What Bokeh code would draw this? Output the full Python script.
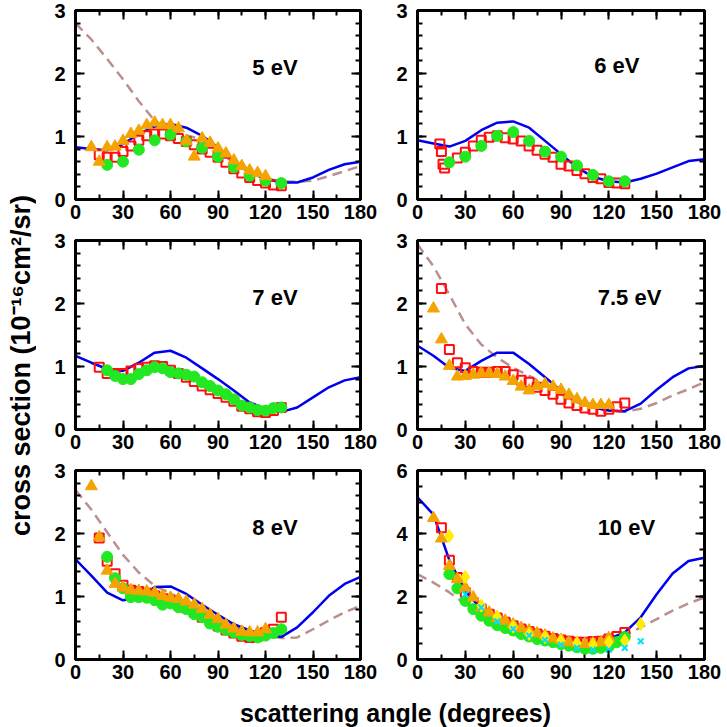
import math
from bokeh.plotting import figure
from bokeh.layouts import row, column
from bokeh.models import Range1d, SingleIntervalTicker, LinearAxis, Label
from bokeh.embed import file_html
from bokeh.resources import INLINE

# ---------------- data ----------------
theta_curve = [0, 10, 20, 30, 40, 50, 60, 70, 80, 90, 100, 110, 120, 130, 140, 150, 160, 170, 180]

# 5 eV
blue_5 = [0.83, 0.80, 0.78, 0.88, 1.04, 1.16, 1.20, 1.14, 1.01, 0.83, 0.62, 0.43, 0.33, 0.27, 0.27, 0.35, 0.47, 0.56, 0.60]
dash_5 = [2.80, 2.54, 2.23, 1.91, 1.56, 1.25, 1.12, 1.02, 0.95, 0.78, 0.58, 0.43, 0.33, 0.29, 0.28, 0.30, 0.37, 0.45, 0.53]
sq_th_5 = [15, 20, 25, 30, 35, 40, 45, 50, 55, 60, 65, 70, 75, 80, 85, 90, 95, 100, 105, 110, 115, 120, 125, 130]
sq_5 = [0.71, 0.67, 0.67, 0.76, 0.85, 0.94, 1.01, 1.04, 1.04, 1.01, 0.97, 0.92, 0.87, 0.80, 0.75, 0.67, 0.59, 0.49, 0.42, 0.35, 0.30, 0.26, 0.23, 0.22]
tri_th_5 = [10, 15, 20, 25, 30, 35, 40, 45, 50, 55, 60, 65, 70, 75, 80, 85, 90, 95, 100, 105, 110, 115, 120]
tri_5 = [0.83, 0.60, 0.83, 0.84, 0.93, 1.04, 1.09, 1.18, 1.22, 1.18, 1.18, 1.13, 0.93, 0.68, 0.97, 0.90, 0.81, 0.73, 0.62, 0.53, 0.46, 0.42, 0.37]
circ_th_5 = [20, 30, 40, 50, 60, 70, 80, 90, 100, 110, 120, 130]
circ_5 = [0.55, 0.60, 0.79, 0.94, 1.03, 0.92, 0.82, 0.68, 0.51, 0.38, 0.30, 0.26]

# 6 eV
blue_6 = [0.94, 0.89, 0.84, 0.93, 1.10, 1.22, 1.24, 1.14, 0.93, 0.72, 0.51, 0.36, 0.29, 0.27, 0.33, 0.41, 0.51, 0.61, 0.64]
sq_th_6 = [14, 15, 16, 17, 25, 30, 35, 40, 45, 50, 55, 60, 65, 70, 75, 80, 85, 90, 95, 100, 105, 110, 115, 120, 125, 130]
sq_6 = [0.88, 0.76, 0.56, 0.50, 0.66, 0.75, 0.85, 0.94, 0.99, 1.01, 0.98, 0.96, 0.93, 0.85, 0.78, 0.72, 0.67, 0.56, 0.53, 0.46, 0.41, 0.35, 0.33, 0.27, 0.26, 0.25]
circ_th_6 = [20, 30, 40, 50, 60, 70, 80, 90, 100, 110, 120, 130]
circ_6 = [0.59, 0.68, 0.85, 1.01, 1.07, 0.93, 0.76, 0.68, 0.54, 0.39, 0.29, 0.29]

# 7 eV
blue_7 = [1.17, 1.06, 0.96, 0.93, 1.06, 1.22, 1.25, 1.14, 0.97, 0.80, 0.62, 0.43, 0.33, 0.28, 0.35, 0.51, 0.67, 0.78, 0.83]
sq_th_7 = [15, 20, 25, 30, 35, 40, 45, 50, 55, 60, 65, 70, 75, 80, 85, 90, 95, 100, 105, 110, 115, 120, 125, 130]
sq_7 = [0.99, 0.89, 0.89, 0.89, 0.93, 0.97, 0.99, 1.01, 1.00, 0.94, 0.89, 0.83, 0.76, 0.69, 0.63, 0.57, 0.51, 0.45, 0.37, 0.33, 0.28, 0.27, 0.30, 0.35]
circ_th_7 = [20, 25, 30, 35, 40, 45, 50, 55, 60, 65, 70, 75, 80, 85, 90, 95, 100, 105, 110, 115, 120, 125, 130]
circ_7 = [0.94, 0.85, 0.80, 0.80, 0.88, 0.94, 0.99, 0.97, 0.91, 0.89, 0.87, 0.84, 0.75, 0.69, 0.62, 0.56, 0.48, 0.38, 0.35, 0.31, 0.30, 0.34, 0.35]

# 7.5 eV
blue_75 = [1.33, 1.17, 0.98, 0.93, 1.09, 1.22, 1.22, 1.04, 0.83, 0.62, 0.46, 0.35, 0.30, 0.29, 0.41, 0.63, 0.83, 0.97, 1.01]
dash_75 = [2.94, 2.59, 2.14, 1.67, 1.35, 1.14, 0.98, 0.85, 0.72, 0.56, 0.43, 0.35, 0.30, 0.28, 0.33, 0.42, 0.54, 0.64, 0.75]
sq_th_75 = [15, 20, 25, 30, 35, 40, 45, 50, 55, 60, 65, 70, 75, 80, 85, 90, 95, 100, 105, 110, 115, 120, 125, 130]
sq_75 = [2.24, 1.27, 1.06, 0.98, 0.92, 0.91, 0.91, 0.92, 0.92, 0.87, 0.78, 0.75, 0.67, 0.62, 0.56, 0.48, 0.42, 0.38, 0.34, 0.32, 0.29, 0.32, 0.36, 0.42]
tri_th_75 = [10, 15, 20, 25, 30, 35, 40, 45, 50, 55, 60, 65, 70, 75, 80, 85, 90, 95, 100, 105, 110, 115, 120]
tri_75 = [1.92, 1.43, 1.01, 0.84, 0.85, 0.87, 0.89, 0.89, 0.88, 0.84, 0.77, 0.68, 0.62, 0.69, 0.72, 0.68, 0.63, 0.55, 0.48, 0.42, 0.39, 0.39, 0.39]

# 8 eV
blue_8 = [1.59, 1.33, 1.06, 0.94, 0.98, 1.15, 1.16, 1.04, 0.87, 0.71, 0.56, 0.46, 0.39, 0.36, 0.51, 0.75, 1.01, 1.20, 1.31]
dash_8 = [2.69, 2.38, 2.02, 1.66, 1.38, 1.17, 1.05, 0.93, 0.80, 0.66, 0.53, 0.44, 0.38, 0.34, 0.35, 0.48, 0.62, 0.75, 0.85]
sq_th_8 = [15, 20, 25, 30, 35, 40, 45, 50, 55, 60, 65, 70, 75, 80, 85, 90, 95, 100, 105, 110, 115, 120, 125, 130]
sq_8 = [1.93, 1.56, 1.36, 1.18, 1.10, 1.08, 1.05, 1.01, 0.97, 0.93, 0.87, 0.82, 0.75, 0.67, 0.62, 0.53, 0.47, 0.42, 0.37, 0.35, 0.37, 0.43, 0.48, 0.67]
tri_th_8 = [10, 15, 20, 25, 30, 35, 40, 45, 50, 55, 60, 65, 70, 75, 80, 85, 90, 95, 100, 105, 110, 115, 120]
tri_8 = [2.75, 1.94, 1.41, 1.20, 1.14, 1.10, 1.09, 1.08, 1.06, 1.01, 0.98, 0.96, 0.92, 0.87, 0.80, 0.71, 0.64, 0.55, 0.49, 0.44, 0.43, 0.43, 0.48]
circ_th_8 = [20, 25, 30, 35, 40, 45, 50, 55, 60, 65, 70, 75, 80, 85, 90, 95, 100, 105, 110, 115, 120, 125, 130]
circ_8 = [1.63, 1.29, 1.13, 0.99, 0.99, 0.98, 0.94, 0.87, 0.89, 0.83, 0.80, 0.72, 0.67, 0.57, 0.52, 0.47, 0.43, 0.39, 0.37, 0.35, 0.38, 0.42, 0.48]

# 10 eV
blue_10 = [5.15, 4.60, 3.15, 2.18, 1.60, 1.23, 0.97, 0.79, 0.65, 0.57, 0.52, 0.55, 0.65, 0.86, 1.34, 2.07, 2.73, 3.13, 3.23]
dash_10 = [2.71, 2.44, 2.13, 1.76, 1.34, 1.02, 0.81, 0.65, 0.55, 0.49, 0.49, 0.52, 0.60, 0.76, 1.02, 1.28, 1.55, 1.78, 1.97]
sq_th_10 = [15, 20, 25, 30, 35, 40, 45, 50, 55, 60, 65, 70, 75, 80, 85, 90, 95, 100, 105, 110, 115, 120, 125, 130]
sq_10 = [4.18, 3.15, 2.60, 2.13, 1.81, 1.60, 1.44, 1.32, 1.18, 1.07, 0.97, 0.89, 0.81, 0.74, 0.67, 0.62, 0.58, 0.55, 0.55, 0.57, 0.58, 0.65, 0.73, 0.86]
tri_th_10 = [10, 15, 20, 25, 30, 35, 40, 45, 50, 55, 60, 65, 70, 75, 80, 85, 90, 95, 100, 105, 110, 115, 120]
tri_10 = [4.49, 3.84, 2.97, 2.55, 2.28, 1.97, 1.65, 1.49, 1.32, 1.23, 1.11, 1.00, 0.92, 0.83, 0.76, 0.67, 0.62, 0.55, 0.52, 0.49, 0.52, 0.55, 0.68]
circ_th_10 = [20, 25, 30, 35, 40, 45, 50, 55, 60, 65, 70, 75, 80, 85, 90, 95, 100, 105, 110, 115, 120, 125, 130]
circ_10 = [2.71, 2.26, 1.86, 1.60, 1.39, 1.23, 1.09, 1.00, 0.92, 0.81, 0.73, 0.65, 0.60, 0.55, 0.49, 0.44, 0.39, 0.34, 0.34, 0.37, 0.41, 0.55, 0.71]
dia_th_10 = [20, 30, 40, 50, 60, 70, 80, 90, 100, 110, 120, 130, 140]
dia_10 = [3.92, 2.62, 1.71, 1.36, 1.04, 0.81, 0.71, 0.60, 0.52, 0.47, 0.55, 0.60, 1.13]
x_th_10 = [30, 40, 50, 60, 70, 80, 90, 100, 110, 120, 130, 140]
x_10 = [2.07, 1.65, 1.21, 0.97, 0.76, 0.62, 0.47, 0.37, 0.31, 0.31, 0.37, 0.58]

panel_labels = ["5 eV", "6 eV", "7 eV", "7.5 eV", "8 eV", "10 eV"]
y_title = "cross section (10\u207b\u00b9\u2076cm\u00b2/sr)"
x_title = "scattering angle (degrees)"

# ---------------- styling ----------------
FONT = "Liberation Sans"
BLUE = "#0000ee"
DASH = "#bc8f8f"
RED = "#ff1010"
GREEN = "#22e822"
ORANGE = "#f5a300"
YELLOW = "#ffee00"
CYAN = "#00ddff"


def make_panel(width, height, ymax, yint, yminor, mb_left, mb_right, mb_top, mb_bottom):
    p = figure(width=width, height=height, x_range=Range1d(0, 180), y_range=Range1d(0, ymax),
               output_backend="svg", toolbar_location=None,
               min_border_left=mb_left, min_border_right=mb_right,
               min_border_top=mb_top, min_border_bottom=mb_bottom)
    p.add_layout(LinearAxis(), "above")
    p.add_layout(LinearAxis(), "right")
    for ax in p.xaxis:
        ax.ticker = SingleIntervalTicker(interval=30, num_minor_ticks=2)
    for ax in p.yaxis:
        ax.ticker = SingleIntervalTicker(interval=yint, num_minor_ticks=yminor)
    for ax in p.axis:
        ax.axis_line_color = "black"
        ax.axis_line_width = 3
        ax.major_tick_in = 9
        ax.major_tick_out = 0
        ax.minor_tick_in = 5
        ax.minor_tick_out = 0
        ax.major_tick_line_width = 2
        ax.minor_tick_line_width = 2
        ax.major_tick_line_color = "black"
        ax.minor_tick_line_color = "black"
        ax.major_label_text_font = FONT
        ax.major_label_text_font_style = "bold"
        ax.major_label_text_font_size = "20px"
        ax.major_label_text_color = "black"
    p.xaxis[0].major_label_standoff = 6
    p.yaxis[0].major_label_standoff = 10
    for ax in (p.above[0], p.right[0]):
        ax.major_label_text_font_size = "1px"
        ax.major_label_text_color = None
        ax.major_label_standoff = 0
    p.xgrid.visible = False
    p.ygrid.visible = False
    p.outline_line_color = "black"
    p.outline_line_width = 3
    p.background_fill_color = "white"
    p.border_fill_color = "white"
    return p


def add_curves(p, blue=None, dash=None):
    if dash is not None:
        p.line(theta_curve, dash, line_color=DASH, line_width=2.5, line_dash="10 6")
    if blue is not None:
        p.line(theta_curve, blue, line_color=BLUE, line_width=2.5)


def add_squares(p, th, v):
    p.scatter(th, v, marker="square", size=9, fill_color=None, line_color=RED, line_width=2)


def add_circles(p, th, v):
    p.scatter(th, v, marker="circle", size=11, fill_color=GREEN, line_color=GREEN)


def add_triangles(p, th, v):
    p.scatter(th, v, marker="triangle", size=12, fill_color=ORANGE, line_color=ORANGE)


def add_label(p, text, x, y):
    p.add_layout(Label(x=x, y=y, text=text, text_align="center", text_baseline="middle",
                       text_font=FONT, text_font_style="bold", text_font_size="22px",
                       text_color="black"))


LW, RW = 344, 344
H1, H2 = 229, 230
TW = 36
XH = 38
TOTAL_H = H1 + 2 * H2 + XH

# 5 eV
p1 = make_panel(LW, H1, 3, 1, 5, 39, 20, 10, 30)
add_curves(p1, blue_5, dash_5)
add_squares(p1, sq_th_5, sq_5)
add_circles(p1, circ_th_5, circ_5)
add_triangles(p1, tri_th_5, tri_5)
add_label(p1, panel_labels[0], 126, 2.1)

# 6 eV
p2 = make_panel(RW, H1, 3, 1, 5, 37, 20, 10, 30)
add_curves(p2, blue_6, None)
add_squares(p2, sq_th_6, sq_6)
add_circles(p2, circ_th_6, circ_6)
add_label(p2, panel_labels[1], 125, 2.13)

# 7 eV
p3 = make_panel(LW, H2, 3, 1, 5, 39, 20, 11, 30)
add_curves(p3, blue_7, None)
add_squares(p3, sq_th_7, sq_7)
add_circles(p3, circ_th_7, circ_7)
add_label(p3, panel_labels[2], 126, 2.1)

# 7.5 eV
p4 = make_panel(RW, H2, 3, 1, 5, 37, 20, 11, 30)
add_curves(p4, blue_75, dash_75)
add_squares(p4, sq_th_75, sq_75)
add_triangles(p4, tri_th_75, tri_75)
add_label(p4, panel_labels[3], 133, 2.1)

# 8 eV
p5 = make_panel(LW, H2, 3, 1, 5, 39, 20, 11, 30)
add_curves(p5, blue_8, dash_8)
add_squares(p5, sq_th_8, sq_8)
add_circles(p5, circ_th_8, circ_8)
add_triangles(p5, tri_th_8, tri_8)
add_label(p5, panel_labels[4], 126, 2.1)

# 10 eV
p6 = make_panel(RW, H2, 6, 2, 4, 37, 20, 11, 30)
add_curves(p6, blue_10, dash_10)
add_squares(p6, sq_th_10, sq_10)
add_circles(p6, circ_th_10, circ_10)
add_triangles(p6, tri_th_10, tri_10)
p6.scatter(dia_th_10, dia_10, marker="diamond", size=13, fill_color=YELLOW, line_color=YELLOW)
p6.scatter(x_th_10, x_10, marker="x", size=8, line_color=CYAN, line_width=2)
add_label(p6, panel_labels[5], 131, 4.2)


def blank(width, height):
    f = figure(width=width, height=height, x_range=Range1d(0, 1), y_range=Range1d(0, 1),
               output_backend="svg", toolbar_location=None, x_axis_type=None, y_axis_type=None,
               min_border=0, min_border_left=0, min_border_right=0, min_border_top=0,
               min_border_bottom=0)
    f.outline_line_color = None
    f.xgrid.visible = False
    f.ygrid.visible = False
    return f


ytitle = blank(TW, TOTAL_H)
ytitle.add_layout(Label(x=20, y=TOTAL_H - 365, x_units="screen", y_units="screen",
                        text=y_title, angle=math.pi / 2,
                        text_align="center", text_baseline="middle",
                        text_font=FONT, text_font_style="bold", text_font_size="27px",
                        text_color="black"))

xtitle = blank(LW + RW, XH)
xtitle.add_layout(Label(x=359, y=15, x_units="screen", y_units="screen",
                        text=x_title,
                        text_align="center", text_baseline="middle",
                        text_font=FONT, text_font_style="bold", text_font_size="25px",
                        text_color="black"))

layout = row(ytitle, column(row(p1, p2), row(p3, p4), row(p5, p6), xtitle))

open("out.html", "w").write(file_html(layout, INLINE))
